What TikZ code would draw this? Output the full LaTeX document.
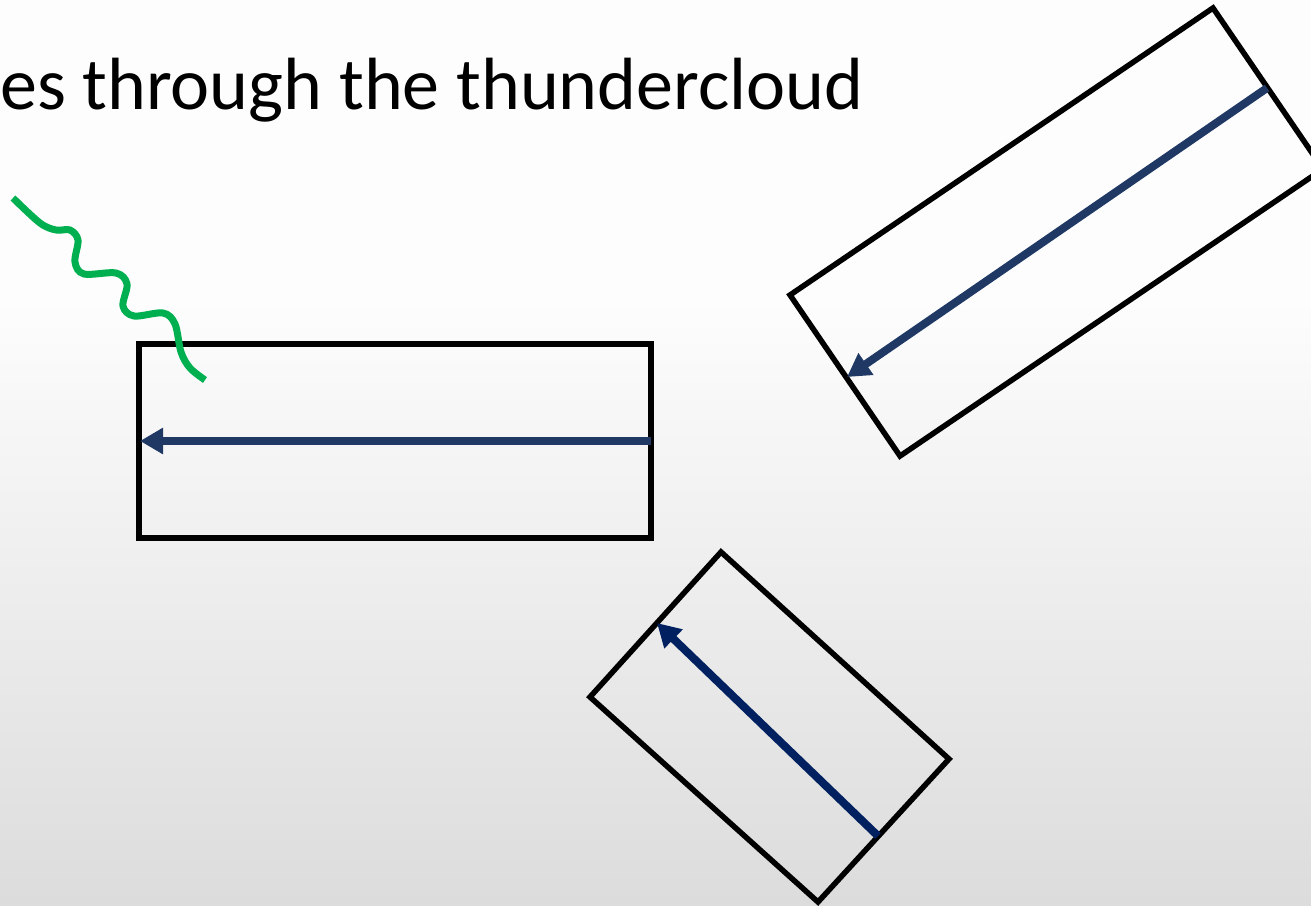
\documentclass[tikz,border=0pt]{standalone}
\usepackage{fontspec}
\setmainfont{Carlito}
\usetikzlibrary{arrows.meta}
\definecolor{bgtop}{RGB}{253,253,253}
\definecolor{bgbottom}{RGB}{220,220,220}
\definecolor{fieldblue}{RGB}{31,56,100}
\definecolor{navy}{RGB}{0,32,96}
\definecolor{wavegreen}{RGB}{0,176,80}
\tikzset{
  slab/.style={draw=black, line width=5.5pt, line join=miter},
  fieldarrow/.style={line width=8pt, -{Triangle[length=23pt, width=25pt]}},
  photon/.style={draw=wavegreen, line width=7pt, line cap=butt},
}
\begin{document}
\begin{tikzpicture}[x=1pt, y=-1pt]
  % canvas and soft vertical gradient
  \useasboundingbox (0,0) rectangle (1311,905);
  \fill[bgtop] (0,0) rectangle (1311,300);
  \shade[top color=bgtop, bottom color=bgbottom] (0,299) rectangle (1311,905);

  % heading
  \node[anchor=base west, inner sep=0pt, font=\fontsize{74}{88}\selectfont] (title) at (0,109) {es through the thundercloud};

  % level slab
  \coordinate (a1) at (139,344);
  \coordinate (a2) at (651,344);
  \coordinate (a3) at (651,538);
  \coordinate (a4) at (139,538);
  \draw[slab] (a1) -- (a2) -- (a3) -- (a4) -- cycle;
  \coordinate (a-in) at (651,441);
  \coordinate (a-out) at (140,441);
  \draw[fieldarrow, fieldblue] (a-in) -- (a-out);

  % upper tilted slab
  \coordinate (b1) at (1213,8);
  \coordinate (b2) at (1323,169);
  \coordinate (b3) at (900,456);
  \coordinate (b4) at (790,295);
  \draw[slab] (b1) -- (b2) -- (b3) -- (b4) -- cycle;
  \coordinate (b-in) at (1267,88);
  \coordinate (b-out) at (847,377);
  \draw[fieldarrow, fieldblue] (b-in) -- (b-out);

  % lower tilted slab
  \coordinate (c1) at (721,552);
  \coordinate (c2) at (949,759);
  \coordinate (c3) at (818,902);
  \coordinate (c4) at (590,697);
  \draw[slab] (c1) -- (c2) -- (c3) -- (c4) -- cycle;
  \coordinate (c-in) at (878,836);
  \coordinate (c-out) at (657,623);
  \draw[fieldarrow, navy] (c-in) -- (c-out);

  % incoming wave
  \draw[photon] plot[smooth, tension=0.55] coordinates {
    (13,198) (40,223) (56,230) (70,230) (78,240) (75,262) (84,274)
    (116,273) (127,284) (123,306) (134,316) (163,313) (175,324)
    (181,352) (190,368) (205,380)};
\end{tikzpicture}
\end{document}
